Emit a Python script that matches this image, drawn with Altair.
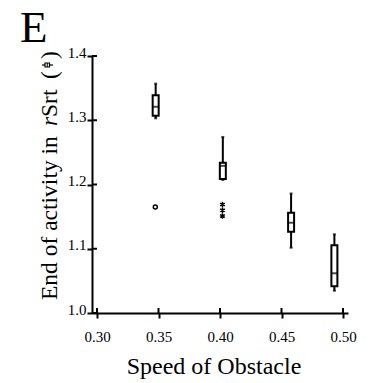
import altair as alt
import pandas as pd

# ---- data ----
speed = [0.3477, 0.4023, 0.4578, 0.4930]
whisk_lo = [1.303, 1.207, 1.1016, 1.0347]
q1 = [1.307, 1.2086, 1.1265, 1.0416]
median = [1.321, 1.229, 1.1405, 1.0618]
q3 = [1.339, 1.234, 1.156, 1.1054]
whisk_hi = [1.357, 1.274, 1.186, 1.1225]

circ_x = [0.3474]
circ_y = [1.165]
star_x = [0.4020, 0.4020, 0.4020]
star_y = [1.169, 1.160, 1.151]

x_ticks = [0.30, 0.35, 0.40, 0.45, 0.50]
y_ticks = [1.0, 1.1, 1.2, 1.3, 1.4]

FONT = "Liberation Serif"

box = pd.DataFrame({"speed": speed, "lo": whisk_lo, "q1": q1, "med": median,
                    "q3": q3, "hi": whisk_hi})
circ = pd.DataFrame({"speed": circ_x, "val": circ_y})
stars = pd.DataFrame({"speed": star_x, "val": star_y})
xt = pd.DataFrame({"v": x_ticks})
yt = pd.DataFrame({"v": y_ticks})

xs = alt.Scale(domain=[0.30, 0.50], nice=False, zero=False)
ys = alt.Scale(domain=[1.0, 1.4], nice=False, zero=False)

common = dict(grid=False, domainColor="black", domainWidth=2,
              tickColor="black", tickWidth=2, tickSize=5,
              labelFont=FONT, labelFontSize=15, labelColor="black",
              labelFontWeight="normal")

xaxis = alt.Axis(values=x_ticks, format=".2f", title="Speed of Obstacle",
                 labelPadding=11, labelBaseline="top",
                 titleFont=FONT, titleFontSize=24, titleFontWeight="normal",
                 titleColor="black",
                 titleX=121.5, titleY=60,
                 titleBaseline="alphabetic", titleAlign="center", **common)
yaxis = alt.Axis(values=y_ticks, format=".1f", title="",
                 labelPadding=1, labelBaseline="alphabetic", labelOffset=1,
                 **common)

base = alt.Chart(box)

whisk = base.mark_rule(color="black", strokeWidth=2).encode(
    x=alt.X("speed:Q", scale=xs, axis=xaxis),
    y=alt.Y("lo:Q", scale=ys, axis=yaxis),
    y2="hi:Q")
cap_hi = base.mark_tick(orient="horizontal", color="black", size=3, thickness=2).encode(
    x="speed:Q", y="hi:Q")
cap_lo = base.mark_tick(orient="horizontal", color="black", size=3, thickness=2).encode(
    x="speed:Q", y="lo:Q")
boxes = base.mark_bar(size=6, fill="white", stroke="black", strokeWidth=2).encode(
    x="speed:Q", y="q1:Q", y2="q3:Q")
med = base.mark_tick(orient="horizontal", color="black", size=7, thickness=2).encode(
    x="speed:Q", y="med:Q")

circles = alt.Chart(circ).mark_point(shape="circle", filled=False, color="black",
                                     size=16, strokeWidth=1.5, opacity=1).encode(
    x="speed:Q", y="val:Q")
ast = alt.Chart(stars).mark_point(
    shape="M0,-1L0,1M-0.87,-0.5L0.87,0.5M-0.87,0.5L0.87,-0.5",
    filled=False, color="black", size=30, strokeWidth=1.5, opacity=1).encode(
    x="speed:Q", y="val:Q")

# inward halves of the crossing ticks
ytick_in = alt.Chart(yt).mark_rule(color="black", strokeWidth=2).encode(
    y="v:Q", x=alt.value(0), x2=alt.value(5))
xtick_in = alt.Chart(xt).mark_rule(color="black", strokeWidth=2).encode(
    x="v:Q", y=alt.value(257), y2=alt.value(252))

one = pd.DataFrame({"a": [0]})


def label(txt, x, y, size, angle=0, style="normal"):
    kw = dict(text=txt, font=FONT, fontSize=size, color="black",
              align="left", baseline="alphabetic", fontStyle=style)
    if angle:
        kw["angle"] = angle
    return alt.Chart(one).mark_text(**kw).encode(x=alt.value(x), y=alt.value(y))


TS = 23.5
panel = label("E", -72, -14, 45)
t1 = label("End of activity in", -35, 244, TS, 270)
t2 = label("r", -35, 70, TS, 270, "italic")
t3 = label("Srt", -35, 61, TS, 270)
t4 = label("(", -35, 23, TS, 270)
t5 = label(")", -35, 3, TS, 270)

g_line = alt.Chart(one).mark_rule(color="black", strokeWidth=1.2).encode(
    x=alt.value(-50), x2=alt.value(-39), y=alt.value(9))
g_box = alt.Chart(one).mark_rect(fill="white", stroke="black", strokeWidth=1.2).encode(
    x=alt.value(-47), x2=alt.value(-42.5), y=alt.value(7), y2=alt.value(11))
g_med = alt.Chart(one).mark_rule(color="black", strokeWidth=1).encode(
    x=alt.value(-44.75), y=alt.value(7), y2=alt.value(11))

chart = alt.layer(
    whisk, cap_hi, cap_lo, boxes, med, circles, ast, ytick_in, xtick_in,
    panel, t1, t2, t3, t4, t5, g_line, g_box, g_med
).properties(
    width=256, height=257,
    autosize=alt.AutoSizeParams(type="none"),
    padding={"left": 92, "top": 56, "right": 22, "bottom": 70},
    background="white",
).configure_view(stroke=None).configure_axis(
    labelFont=FONT, titleFont=FONT,
)

chart.save("out.html", embed_options={"renderer": "svg", "actions": False})
